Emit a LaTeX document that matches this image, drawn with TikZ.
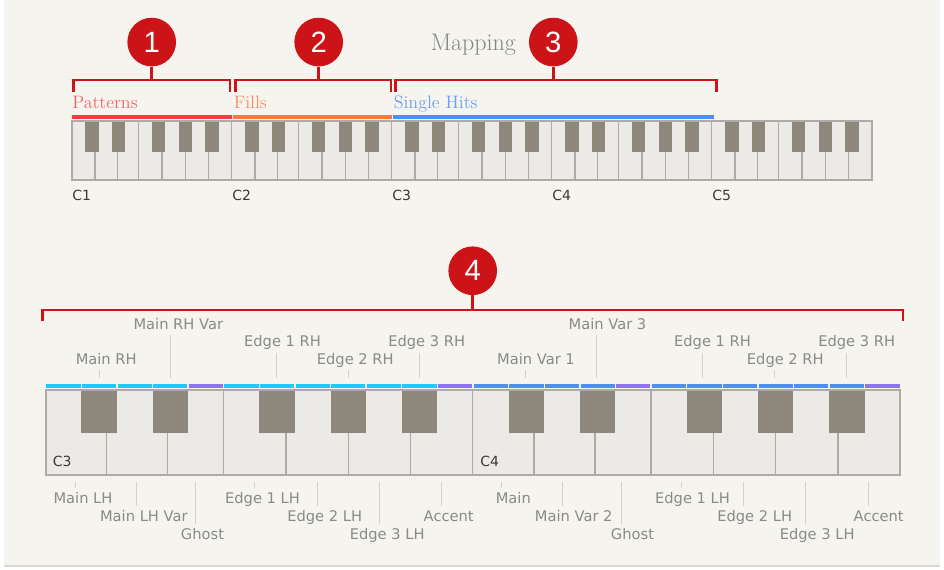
\documentclass[tikz,border=0pt]{standalone}
\usepackage{fontspec}
\newfontfamily\keyfont{DejaVu Sans}
\newfontfamily\badgefont{Liberation Sans}
\usepackage{tikz}
\usetikzlibrary{positioning}
\definecolor{paper}{HTML}{F5F4EF}
\definecolor{rulegray}{HTML}{D9D8D3}
\definecolor{badgered}{HTML}{CC1317}
\definecolor{patred}{HTML}{F23D3D}
\definecolor{fillorange}{HTML}{F57943}
\definecolor{hitblue}{HTML}{4F8FF0}
\definecolor{rhcyan}{HTML}{1DCBF7}
\definecolor{accpurple}{HTML}{8D74F2}
\definecolor{whitekey}{HTML}{EBEAE6}
\definecolor{blackkey}{HTML}{8E877C}
\definecolor{keyline}{HTML}{ADABA7}
\definecolor{labelgray}{HTML}{8A8A8A}
\definecolor{tickgray}{HTML}{D2D1CC}
\definecolor{notedark}{HTML}{3D3838}
\tikzset{
  badge/.style={circle, fill=badgered, text=white, minimum size=36.5pt, inner sep=0pt,
    font=\badgefont\fontsize{22}{22}\selectfont},
  bracket/.style={draw=badgered, line width=2pt},
  zone/.style={font=\fontsize{13.5}{14}\selectfont, anchor=base west, inner sep=0pt},
  note/.style={font=\keyfont\fontsize{10.5}{11}\selectfont, text=notedark, anchor=base west, inner sep=0pt},
  hitlabel/.style={font=\keyfont\fontsize{11}{12}\selectfont, text=labelgray, anchor=base, inner sep=0pt},
  tick/.style={draw=tickgray, line width=0.75pt},
  keyrule/.style={draw=keyline, line width=1pt}
}
% one octave: left x, semitone width, top y, black key bottom y, bottom y
\newcommand{\keyoctave}[5]{%
  \fill[whitekey] (#1,#3) rectangle ({#1+12*#2},#5);
  \foreach \d in {1.7143,3.4286,6.75,8.5,10.25}
    \draw[keyrule] ({#1+\d*#2},#4) -- ({#1+\d*#2},#5);
  \foreach \d in {5,12}
    \draw[keyrule] ({#1+\d*#2},#3) -- ({#1+\d*#2},#5);
  \foreach \s in {1,3,6,8,10}
    \fill[blackkey] ({#1+\s*#2},#3) rectangle ({#1+(\s+1)*#2},#4);
}
\begin{document}
\begin{tikzpicture}[x=0.75pt,y=-0.75pt]
 \useasboundingbox (0,0) rectangle (944,569);
 \fill[white] (0,0) rectangle (944,569);
 \fill[paper] (4,0) rectangle (940,566);
 \draw[rulegray, line width=1pt] (4,566) -- (940,566);

% upper keyboard
 \foreach \o in {0,...,4}
   \keyoctave{72+\o*160}{13.3333}{121}{152}{180}
 \draw[keyline, line width=1.1pt] (72,121) rectangle (872,180);
 \fill[patred] (72,115) rectangle (231.5,119.3);
 \fill[fillorange] (233.3,115) rectangle (391.7,119.3);
 \fill[hitblue] (393.3,115) rectangle (714,119.3);
 \foreach \o in {1,...,5}
   \node[note] (c\o) at (72+\o*160-160,200) {C\o};

% zones
 \node[zone, text=patred!80] (patterns) at (72,108) {Patterns};
 \node[zone, text=fillorange!85] (fills) at (233.5,108) {Fills};
 \node[zone, text=hitblue!85] (hits) at (393.5,108) {Single Hits};
 \node[zone, font=\fontsize{18}{20}\selectfont, text=labelgray!95!black] (title) at (430.5,50.5) {Mapping};

% brackets
 \coordinate (b1) at (151.7,80);
 \coordinate (b2) at (318.7,80);
 \coordinate (b3) at (553.3,80);
 \node[badge, above=10pt of b1] (n1) {1};
 \node[badge, above=10pt of b2] (n2) {2};
 \node[badge, above=10pt of b3] (n3) {3};
 \draw[bracket] (73.5,91.7) -- (73.5,80) -- (230,80) -- (230,91.7);
 \draw[bracket] (235.3,91.7) -- (235.3,80) -- (391,80) -- (391,91.7);
 \draw[bracket] (395.7,91.7) -- (395.7,80) -- (716.3,80) -- (716.3,91.7);
 \draw[bracket] (n1) -- (b1);
 \draw[bracket] (n2) -- (b2);
 \draw[bracket] (n3) -- (b3);

% lower keyboard
 \keyoctave{45.7}{35.608}{390}{432.7}{475}
 \keyoctave{473}{35.608}{390}{432.7}{475}
 \draw[keyline, line width=1.4pt] (45.7,390) rectangle (900.3,475);
 \foreach \o/\c in {0/rhcyan,1/hitblue}{
   \foreach \s in {0,1,2,3,5,6,7,8,9,10}
     \fill[\c] ({45.7+(12*\o+\s)*35.608+0.7},384) rectangle ({45.7+(12*\o+\s+1)*35.608-0.7},388);
   \foreach \s in {4,11}
     \fill[accpurple] ({45.7+(12*\o+\s)*35.608+0.7},384) rectangle ({45.7+(12*\o+\s+1)*35.608-0.7},388);
 }
 \node[note] (k3) at (52.7,466.5) {C3};
 \node[note] (k4) at (480,466.5) {C4};

% right hand labels
 \foreach \tx/\lx/\l/\t in {99.1/106.2/1/Main RH, 170.3/178.3/3/Main RH Var,
     276.5/282.5/2/Edge 1 RH, 348.3/355.3/1/Edge 2 RH, 419.5/426.7/2/Edge 3 RH,
     525.5/536/1/Main Var 1, 596.7/607.5/3/Main Var 3, 702.5/712.5/2/Edge 1 RH,
     774.5/785.3/1/Edge 2 RH, 846/856.7/2/Edge 3 RH}{
   \pgfmathsetmacro\yb{364-17.5*(\l-1)}
   \node[hitlabel] at (\lx,\yb) {\t};
   \draw[tick] (\tx,\yb+6) -- (\tx,377.7);
 }

% left hand labels
 \foreach \tx/\lx/\l/\t in {75.8/83/1/Main LH, 136.7/143.8/2/Main LH Var,
     195.5/202.5/3/Ghost, 254.7/262.5/1/Edge 1 LH, 317.2/324.7/2/Edge 2 LH,
     379.3/387.2/3/Edge 3 LH, 441.6/448.7/2/Accent, 501.5/513.3/1/Main,
     562.5/573.7/2/Main Var 2, 621.5/632.5/3/Ghost, 681/692.5/1/Edge 1 LH,
     743.3/754.7/2/Edge 2 LH, 805.5/817.2/3/Edge 3 LH, 868/878.7/2/Accent}{
   \pgfmathsetmacro\yb{503.3+18*(\l-1)}
   \node[hitlabel] at (\lx,\yb) {\t};
   \draw[tick] (\tx,481.7) -- (\tx,\yb-15);
 }

% bracket 4
 \coordinate (b4) at (472.7,310);
 \node[badge, above=11pt of b4] (n4) {4};
 \draw[bracket] (42.2,321) -- (42.2,310) -- (903,310) -- (903,321);
 \draw[bracket] (n4) -- (b4);
\end{tikzpicture}
\end{document}
